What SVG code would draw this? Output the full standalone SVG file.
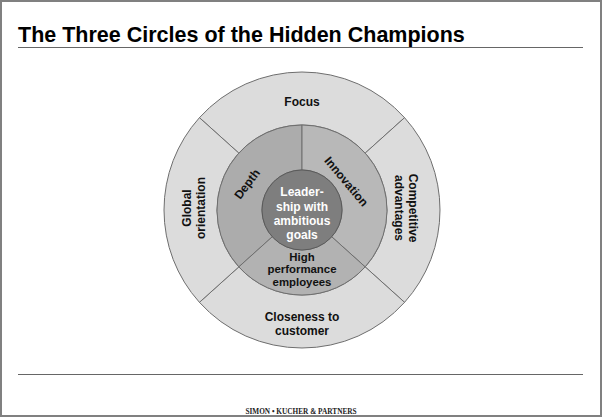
<svg xmlns="http://www.w3.org/2000/svg" width="602" height="417" viewBox="0 0 602 417">
<style>
.seg{stroke:#6e6e6e;stroke-width:1}
.outer{fill:#dcdcdc}
.lbl{font-family:"Liberation Sans",Arial,sans-serif;font-weight:bold;font-size:12px;fill:#111;text-anchor:middle}
.sm{font-size:11.4px}
.wl{fill:#fff}
.rule{stroke:#666;stroke-width:1}
</style>
<rect x="0" y="0" width="602" height="417" fill="#fff"/>
<rect x="1" y="1" width="600" height="415" fill="none" stroke="#808080" stroke-width="2"/>
<g id="title">
<text x="18" y="42" font-family="'Liberation Sans',Arial,sans-serif" font-weight="bold" font-size="21.5" fill="#000">The Three Circles of the Hidden Champions</text>
<line class="rule" x1="18" y1="47.5" x2="583" y2="47.5"/>
</g>
<g id="focus">
<path class="seg outer" d="M199.45,117.66 A138,138 0 0 1 404.55,117.66 L365.17,153.12 A85,85 0 0 0 238.83,153.12 Z"/>
<text class="lbl" x="302" y="106">Focus</text>
</g>
<g id="competitive-advantages">
<path class="seg outer" d="M404.55,117.66 A138,138 0 0 1 404.55,302.34 L365.17,266.88 A85,85 0 0 0 365.17,153.12 Z"/>
<text class="lbl" transform="translate(406.5,208) rotate(90)"><tspan x="0" y="-2.8">Competitive</tspan><tspan x="0" y="11.2">advantages</tspan></text>
</g>
<g id="closeness-to-customer">
<path class="seg outer" d="M404.55,302.34 A138,138 0 0 1 199.45,302.34 L238.83,266.88 A85,85 0 0 0 365.17,266.88 Z"/>
<text class="lbl"><tspan x="302" y="321">Closeness to</tspan><tspan x="302" y="334.5">customer</tspan></text>
</g>
<g id="global-orientation">
<path class="seg outer" d="M199.45,302.34 A138,138 0 0 1 199.45,117.66 L238.83,153.12 A85,85 0 0 0 238.83,266.88 Z"/>
<text class="lbl" transform="translate(194,208) rotate(-90)"><tspan x="0" y="-3.3">Global</tspan><tspan x="0" y="11.2">orientation</tspan></text>
</g>
<g id="depth">
<path class="seg" fill="#acacac" d="M238.83,266.88 A85,85 0 0 1 302,125 L302,170 A40,40 0 0 0 272.27,236.77 Z"/>
<text class="lbl" transform="translate(247,184) rotate(-53)" x="0" y="4.2">Depth</text>
</g>
<g id="innovation">
<path class="seg" fill="#b8b8b8" d="M302,125 A85,85 0 0 1 365.17,266.88 L331.73,236.77 A40,40 0 0 0 302,170 Z"/>
<text class="lbl" transform="translate(346.5,181.5) rotate(50)" x="0" y="4.2">Innovation</text>
</g>
<g id="high-performance-employees">
<path class="seg" fill="#b2b2b2" d="M365.17,266.88 A85,85 0 0 1 238.83,266.88 L272.27,236.77 A40,40 0 0 0 331.73,236.77 Z"/>
<text class="lbl sm"><tspan x="302" y="260.5">High</tspan><tspan x="302" y="273.3">performance</tspan><tspan x="302" y="286">employees</tspan></text>
</g>
<g id="leadership">
<circle cx="302" cy="210" r="40" fill="#7e7e7e" stroke="#5a5a5a" stroke-width="1"/>
<text class="lbl wl"><tspan x="302" y="196">Leader-</tspan><tspan x="302" y="210.5">ship with</tspan><tspan x="302" y="225">ambitious</tspan><tspan x="302" y="239">goals</tspan></text>
</g>
<g id="footer">
<line class="rule" x1="18" y1="374.5" x2="583" y2="374.5"/>
<text x="301" y="413.5" font-family="'Liberation Serif','Times New Roman',serif" font-weight="bold" font-size="7.3" fill="#222" text-anchor="middle">SIMON • KUCHER &amp; PARTNERS</text>
</g>
</svg>
